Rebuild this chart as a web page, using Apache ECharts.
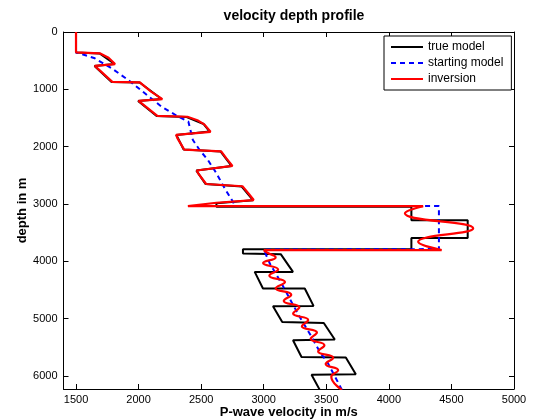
<!DOCTYPE html>
<html><head><meta charset="utf-8">
<script src="https://cdn.jsdelivr.net/npm/echarts@6/dist/echarts.min.js"></script>
<style>html,body{margin:0;padding:0;background:#fff}#c{width:533px;height:420px}</style>
</head><body><div id="c"></div>
<script>
// ---- data (velocity in m/s, depth in m) ----
const xTicks = [1500, 2000, 2500, 3000, 3500, 4000, 4500, 5000];
const yTicks = [0, 1000, 2000, 3000, 4000, 5000, 6000];

const trueVel   = [1500,1500,1688,1808,1648,1784,2008,2184,1996,2144,2384,2520,2568,2302,2360,2656,2744,2462,2536,2824,2914,2622,2622,4180,4180,4630,4630,4180,4180,2834,2834,3136,3234,2928,2994,3328,3398,3074,3148,3480,3568,3234,3302,3656,3736,3382,3448];
const trueDepth = [0,358,375,558,593,872,881,1169,1204,1466,1483,1605,1736,1797,2050,2085,2338,2417,2652,2696,2932,2984,3045,3048,3281,3281,3590,3590,3790,3790,3862,3874,4183,4183,4472,4472,4776,4781,5055,5073,5362,5375,5666,5677,5968,5977,6240];

const startVel   = [1500,1500,1528,1650,1784,1918,2050,2184,2318,2398,2434,2488,2554,2622,2688,2754,2770,4400,4400,3005,3008,3048,3142,3228,3294,3382,3448,3514,3542,3625];
const startDepth = [0,358,372,459,633,837,1069,1303,1477,1564,1884,2058,2232,2464,2726,2960,3035,3035,3785,3795,3832,4034,4383,4732,4993,5314,5576,5778,5895,6240];

// inversion: upper part (layered), high-velocity layer and lower part (oscillating)
const invVelUpper   = [1500,1500,1690,1760,1812,1650,1660,1790,2010,2100,2190,2000,2010,2150,2390,2470,2525,2575,2300,2310,2365,2660,2700,2750,2465,2475,2540,2830,2880,2920,2622,2394,4274];
const invDepthUpper = [0,355,372,450,560,590,620,870,880,1040,1170,1200,1230,1462,1478,1540,1610,1740,1795,1850,2050,2080,2200,2335,2415,2460,2650,2690,2820,2930,2977,3035,3036];
const invVelHigh    = [4274,4128,4674,4234,4422,3000];
const invDepthHigh  = [3036,3162,3424,3657,3802,3802];
const invVelLower   = [3000,3030,3095,2995,3115,3045,3170,3095,3220,3160,3285,3235,3355,3305,3425,3375,3485,3435,3555,3495,3595,3540,3625];
const invDepthLower = [3802,3850,3930,4030,4140,4250,4360,4470,4580,4690,4800,4910,5020,5130,5240,5350,5460,5570,5680,5790,5900,6010,6240];

const pairs = (v, d) => v.map((x, i) => [x, d[i]]);

const FONT = 'Liberation Sans, Arial, sans-serif';
const chart = echarts.init(document.getElementById('c'), null, {renderer: 'canvas'});
const axisLine = {show: true, onZero: false, lineStyle: {color: '#000', width: 1}};
const tickBase = {show: true, inside: true, length: 5, lineStyle: {color: '#000', width: 1}};
const plain = v => String(v);

chart.setOption({
  backgroundColor: '#fff',
  animation: false,
  title: {
    text: 'velocity depth profile', left: 289, top: 4, textAlign: 'center',
    textStyle: {fontFamily: FONT, fontSize: 14, fontWeight: 'bold', color: '#000'}
  },
  legend: {
    orient: 'vertical', left: 384, top: 36, padding: [5, 8, 5, 6], itemGap: 4,
    itemWidth: 32, itemHeight: 13, backgroundColor: '#fff', borderColor: '#000', borderWidth: 1, borderRadius: 0,
    itemStyle: {opacity: 0},
    textStyle: {fontFamily: FONT, fontSize: 12, color: '#000'},
    data: ['true model', 'starting model', 'inversion']
  },
  grid: {left: 63.5, right: 19, top: 32, bottom: 31, containLabel: false, outerBoundsMode: 'none'},
  xAxis: [
    {type: 'value', min: 1400, max: 5000, position: 'bottom', axisLine,
     axisTick: Object.assign({customValues: xTicks}, tickBase),
     axisLabel: {customValues: xTicks, formatter: plain, fontFamily: FONT, fontSize: 11, color: '#000', margin: 5},
     splitLine: {show: false},
     name: 'P-wave velocity in m/s', nameLocation: 'middle', nameGap: 17, nameMoveOverlap: false,
     nameTextStyle: {fontFamily: FONT, fontSize: 13, fontWeight: 'bold', color: '#000'}},
    {type: 'value', min: 1400, max: 5000, position: 'top', axisLine,
     axisTick: Object.assign({customValues: xTicks}, tickBase),
     axisLabel: {show: false}, splitLine: {show: false}}
  ],
  yAxis: [
    {type: 'value', min: 0, max: 6225, inverse: true, position: 'left', axisLine,
     axisTick: Object.assign({customValues: yTicks}, tickBase),
     axisLabel: {customValues: yTicks, formatter: plain, fontFamily: FONT, fontSize: 11, color: '#000', margin: 6},
     splitLine: {show: false},
     name: 'depth in m', nameLocation: 'middle', nameGap: 35, nameMoveOverlap: false,
     nameTextStyle: {fontFamily: FONT, fontSize: 13, fontWeight: 'bold', color: '#000'}},
    {type: 'value', min: 0, max: 6225, inverse: true, position: 'right', axisLine,
     axisTick: Object.assign({customValues: yTicks}, tickBase),
     axisLabel: {show: false}, splitLine: {show: false}}
  ],
  series: [
    {name: 'true model', type: 'line', data: pairs(trueVel, trueDepth), symbol: 'none',
     lineStyle: {color: '#000', width: 2}, itemStyle: {color: '#000'}, z: 2},
    {name: 'starting model', type: 'line', data: pairs(startVel, startDepth), symbol: 'none',
     lineStyle: {color: '#0000ff', width: 2, type: [5, 4]}, itemStyle: {color: '#0000ff'}, z: 3},
    {name: 'inversion', type: 'line', data: pairs(invVelUpper, invDepthUpper), symbol: 'none',
     lineStyle: {color: '#ff0000', width: 2.2}, itemStyle: {color: '#ff0000'}, z: 4},
    {name: 'inversion', type: 'line', data: pairs(invVelHigh, invDepthHigh), symbol: 'none', smooth: 0.5,
     lineStyle: {color: '#ff0000', width: 2.2}, itemStyle: {color: '#ff0000'}, z: 4},
    {name: 'inversion', type: 'line', data: pairs(invVelLower, invDepthLower), symbol: 'none', smooth: 0.5,
     lineStyle: {color: '#ff0000', width: 2.2}, itemStyle: {color: '#ff0000'}, z: 4}
  ]
});
</script></body></html>
